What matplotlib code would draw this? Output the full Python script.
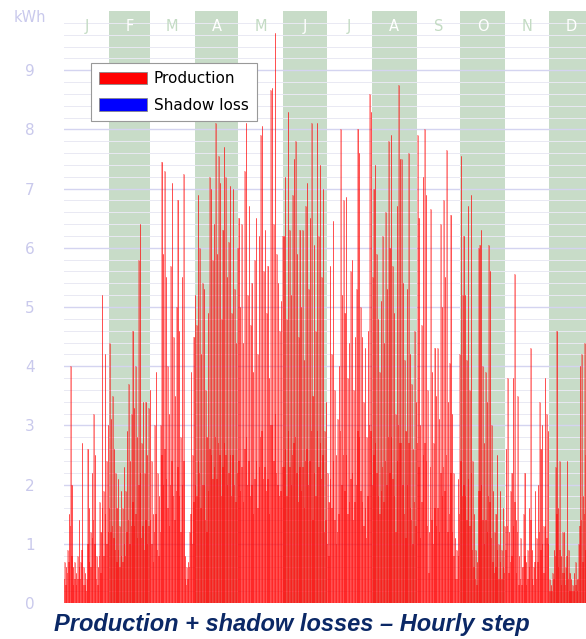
import matplotlib
matplotlib.use("Agg")
import matplotlib.pyplot as plt
import matplotlib.patches as mpatches
import numpy as np

# month labels and lengths
months = ["J", "F", "M", "A", "M", "J", "J", "A", "S", "O", "N", "D"]
month_days = [31, 28, 31, 30, 31, 30, 31, 31, 30, 31, 30, 31]

# daily peak production (kWh)
peak_jan = [0.7, 0.6, 0.9, 1.5, 4.0, 2.0, 0.6, 0.7, 0.5, 0.8, 1.4, 0.7, 2.7, 0.6, 0.5, 0.4,
            2.6, 1.6, 1.2, 2.2, 3.2, 2.5, 0.8, 0.6, 1.7, 1.2, 5.2, 1.9, 4.2, 2.4, 3.0]
peak_feb = [4.4, 3.1, 3.5, 2.6, 2.2, 1.6, 2.1, 1.3, 1.9, 1.6, 2.3, 1.9, 2.9, 3.7, 2.4, 3.2,
            4.6, 3.3, 4.0, 2.8, 5.8, 6.4, 2.7, 3.4, 2.2, 3.4, 2.5, 3.3]
peak_mar = [3.6, 2.4, 1.5, 3.0, 3.9, 2.2, 1.8, 3.0, 7.45, 5.9, 7.3, 5.5, 4.0, 3.2, 5.7, 7.1,
            4.5, 3.5, 5.0, 6.8, 4.6, 2.8, 5.5, 7.25, 0.8, 0.6, 0.7, 1.2, 3.9, 2.5, 4.5]
peak_apr = [5.2, 4.7, 6.9, 6.0, 4.2, 5.4, 5.3, 3.6, 2.8, 4.9, 7.2, 7.0, 5.8, 6.4, 8.1, 5.9,
            7.55, 7.1, 4.8, 6.3, 7.7, 7.2, 5.5, 6.1, 7.05, 4.9, 7.0, 5.3, 4.4, 6.0]
peak_may = [6.5, 5.0, 6.4, 4.4, 7.3, 8.1, 5.2, 6.7, 4.7, 5.4, 3.9, 5.8, 6.5, 4.2, 6.2, 7.9,
            8.05, 5.6, 6.3, 4.9, 5.7, 3.8, 8.67, 8.7, 6.4, 9.63, 5.9, 5.4, 4.6, 5.1, 6.2]
peak_jun = [6.2, 7.2, 4.8, 8.3, 6.3, 5.2, 6.9, 7.5, 7.8, 5.9, 4.5, 6.3, 5.0, 6.3, 4.1, 6.7,
            7.1, 5.3, 6.5, 8.1, 3.5, 6.05, 4.6, 8.1, 6.2, 7.4, 5.5, 7.0, 2.9, 3.4]
peak_jul = [2.2, 1.7, 5.7, 4.2, 6.45, 3.6, 2.5, 3.1, 4.0, 8.0, 5.2, 6.8, 4.9, 6.85, 3.8, 4.4,
            5.6, 5.8, 3.6, 4.5, 5.3, 8.0, 7.6, 5.0, 4.5, 3.4, 4.3, 2.8, 4.6, 8.6, 8.3]
peak_aug = [5.5, 7.0, 7.4, 5.9, 4.8, 3.9, 5.1, 6.2, 4.4, 6.6, 5.3, 7.8, 6.0, 7.9, 5.7, 4.9,
            3.2, 6.7, 8.75, 7.5, 7.5, 5.4, 4.1, 2.9, 5.3, 7.6, 4.2, 3.7, 2.6, 4.6, 3.4]
peak_sep = [7.9, 6.5, 3.0, 4.7, 7.2, 8.0, 6.9, 3.6, 1.2, 6.65, 3.9, 2.7, 4.3, 3.5, 4.3, 3.1,
            6.4, 5.0, 6.8, 5.5, 7.65, 3.4, 4.05, 6.55, 3.2, 2.2, 1.1, 0.9, 2.1, 4.2]
peak_oct = [7.55, 5.2, 6.2, 5.2, 4.1, 6.7, 3.6, 6.9, 2.4, 1.5, 0.9, 0.7, 6.0, 6.05, 6.3, 4.0,
            2.7, 3.9, 3.4, 6.05, 5.6, 3.0, 1.9, 1.2, 1.5, 2.5, 1.0, 1.9, 0.9, 1.6, 1.3]
peak_nov = [2.6, 3.8, 1.2, 1.9, 2.2, 3.8, 5.55, 1.4, 3.5, 0.8, 1.1, 0.6, 1.5, 2.2, 0.7, 0.9,
            1.6, 4.3, 0.9, 0.6, 1.9, 1.1, 2.0, 3.4, 2.6, 3.0, 1.3, 3.8, 3.2, 2.9]
peak_dec = [0.4, 0.3, 0.5, 0.9, 2.3, 4.6, 1.6, 2.4, 0.8, 1.2, 1.2, 0.6, 2.4, 0.9, 0.5, 0.4,
            0.3, 0.5, 0.7, 0.4, 1.0, 4.0, 4.2, 1.8, 4.4, 2.5, 1.4, 0.8, 1.2, 0.9, 1.6]

# level reached by most daylight hours of each day (dense red part)
mid_jan = [0.4, 0.3, 0.5, 0.7, 1.3, 0.8, 0.3, 0.4, 0.3, 0.4, 0.6, 0.4, 0.9, 0.3, 0.3, 0.2,
           1.0, 0.7, 0.6, 1.1, 1.4, 1.0, 0.4, 0.3, 0.8, 0.5, 1.6, 0.8, 1.5, 1.0, 1.2]
mid_feb = [1.6, 1.2, 1.3, 1.1, 0.9, 0.7, 0.9, 0.6, 0.8, 0.7, 1.0, 0.8, 1.2, 1.4, 1.0, 1.3,
           1.7, 1.3, 1.5, 1.1, 2.0, 2.2, 1.1, 1.3, 0.9, 1.4, 1.0, 1.3]
mid_mar = [1.4, 1.0, 0.7, 1.2, 1.5, 0.9, 0.8, 1.2, 2.5, 2.0, 2.6, 2.1, 1.6, 1.3, 2.0, 2.4,
           1.8, 1.4, 1.9, 2.3, 1.8, 1.2, 2.0, 2.4, 0.4, 0.3, 0.4, 0.6, 1.5, 1.0, 1.7]
mid_apr = [2.0, 1.8, 2.4, 2.2, 1.6, 2.0, 2.0, 1.4, 1.2, 1.9, 2.6, 2.5, 2.1, 2.3, 2.8, 2.1,
           2.7, 2.5, 1.8, 2.3, 2.7, 2.5, 2.0, 2.2, 2.5, 1.8, 2.5, 2.0, 1.7, 2.2]
mid_may = [2.4, 1.9, 2.3, 1.7, 2.6, 2.8, 2.0, 2.4, 1.8, 2.0, 1.5, 2.1, 2.4, 1.6, 2.3, 2.8,
           2.9, 2.1, 2.3, 1.9, 2.1, 1.5, 3.0, 3.0, 2.4, 3.2, 2.2, 2.0, 1.8, 1.9, 2.3]
mid_jun = [2.3, 2.6, 1.8, 2.9, 2.3, 2.0, 2.5, 2.7, 2.8, 2.2, 1.7, 2.3, 1.9, 2.3, 1.6, 2.4,
           2.6, 2.0, 2.4, 2.9, 1.4, 2.2, 1.8, 2.9, 2.3, 2.7, 2.1, 2.5, 1.2, 1.4]
mid_jul = [1.0, 0.8, 2.1, 1.6, 2.4, 1.4, 1.0, 1.2, 1.5, 2.9, 2.0, 2.5, 1.9, 2.5, 1.5, 1.7,
           2.1, 2.2, 1.4, 1.7, 2.0, 2.9, 2.8, 1.9, 1.7, 1.3, 1.6, 1.1, 1.8, 3.0, 2.9]
mid_aug = [2.0, 2.5, 2.7, 2.2, 1.8, 1.5, 1.9, 2.3, 1.7, 2.4, 2.0, 2.8, 2.2, 2.8, 2.1, 1.8,
           1.2, 2.4, 3.0, 2.7, 2.7, 2.0, 1.5, 1.1, 2.0, 2.7, 1.6, 1.4, 1.0, 1.7, 1.3]
mid_sep = [2.7, 2.3, 1.1, 1.7, 2.5, 2.7, 2.4, 1.3, 0.5, 2.3, 1.4, 1.0, 1.6, 1.3, 1.6, 1.2,
           2.2, 1.8, 2.3, 1.9, 2.5, 1.2, 1.5, 2.2, 1.2, 0.8, 0.4, 0.4, 0.8, 1.5]
mid_oct = [2.4, 1.8, 2.0, 1.8, 1.4, 2.1, 1.3, 2.2, 0.9, 0.6, 0.4, 0.3, 1.9, 1.9, 2.0, 1.4,
           1.0, 1.4, 1.2, 1.8, 1.7, 1.1, 0.7, 0.5, 0.6, 0.9, 0.4, 0.7, 0.4, 0.6, 0.5]
mid_nov = [0.9, 1.3, 0.5, 0.7, 0.8, 1.3, 1.7, 0.5, 1.2, 0.3, 0.4, 0.3, 0.6, 0.8, 0.3, 0.4,
           0.6, 1.4, 0.4, 0.3, 0.7, 0.4, 0.7, 1.2, 0.9, 1.0, 0.5, 1.3, 1.1, 1.0]
mid_dec = [0.2, 0.2, 0.2, 0.4, 0.8, 1.5, 0.6, 0.9, 0.3, 0.5, 0.5, 0.3, 0.8, 0.4, 0.2, 0.2,
           0.2, 0.2, 0.3, 0.2, 0.4, 1.3, 1.4, 0.7, 1.5, 0.9, 0.6, 0.3, 0.5, 0.4, 0.6]

peak = np.array(peak_jan + peak_feb + peak_mar + peak_apr + peak_may + peak_jun +
                peak_jul + peak_aug + peak_sep + peak_oct + peak_nov + peak_dec)
mid = np.array(mid_jan + mid_feb + mid_mar + mid_apr + mid_may + mid_jun +
               mid_jul + mid_aug + mid_sep + mid_oct + mid_nov + mid_dec)
days = np.arange(len(peak)) + 0.5

lav = "#c9c9ec"
band = "#c8dcc8"

fig = plt.figure(figsize=(5.86, 6.39), dpi=100)
# axes runs a little past the right edge, as in the reference
ax = fig.add_axes([64 / 586, 36 / 639, 530 / 586, 592 / 639])
ax.set_xlim(0, 365)
ax.set_ylim(0, 10)

# month bands
starts = np.concatenate([[0], np.cumsum(month_days)[:-1]])
for i, (s, n) in enumerate(zip(starts, month_days)):
    if i % 2 == 1:
        ax.axvspan(s, s + n, color=band, lw=0, zorder=0)
    ax.text(s + n / 2, 9.74, months[i], ha="center", va="center", fontsize=10.5,
            color="white" if i % 2 == 1 else "#c3dbc3", zorder=1)

# grid
for v in np.arange(0.2, 10, 0.2):
    if abs(v - round(v)) < 1e-6:
        ax.axhline(v, color="#d4d4f0", lw=1.0, zorder=0.6)
    else:
        ax.axhline(v, color="#e9e9f3", lw=0.7, zorder=0.5)

# production bars
ax.bar(days, peak, width=0.75, color="#ff2020", alpha=0.4, lw=0, zorder=2)
ax.vlines(days, 0, peak, color="#ff0000", lw=0.45, alpha=0.8, zorder=3)
ax.bar(days, mid, width=1.0, color="#ff0000", alpha=0.5, lw=0, zorder=2.5)

ax.set_yticks(range(0, 10))
ax.tick_params(axis="y", length=0, pad=21, labelcolor=lav, labelsize=11)
ax.tick_params(axis="x", length=0, labelbottom=False)
for sp in ax.spines.values():
    sp.set_visible(False)

fig.text(30 / 586, 1 - 18 / 639, "kWh", color=lav, fontsize=10.5, ha="center", va="center")

handles = [mpatches.Patch(facecolor="#ff0000", edgecolor="#888888", lw=0.6, label="Production"),
           mpatches.Patch(facecolor="#0000ff", edgecolor="#888888", lw=0.6, label="Shadow loss")]
leg = ax.legend(handles=handles, loc="upper left", bbox_to_anchor=(27 / 530, 540 / 592),
                borderaxespad=0, fancybox=False, framealpha=1, edgecolor="#999999",
                fontsize=11, handlelength=3.1, handleheight=0.85, labelspacing=0.75,
                borderpad=0.55, handletextpad=0.45)
leg.set_zorder(10)
leg.get_frame().set_linewidth(0.8)

fig.text(292 / 586, 1 - 625 / 639, "Production + shadow losses \u2013 Hourly step",
         ha="center", va="center", fontsize=17, fontweight="bold", fontstyle="italic",
         color="#0b2866", family="Liberation Sans")

fig.savefig("out.png", dpi=100)
